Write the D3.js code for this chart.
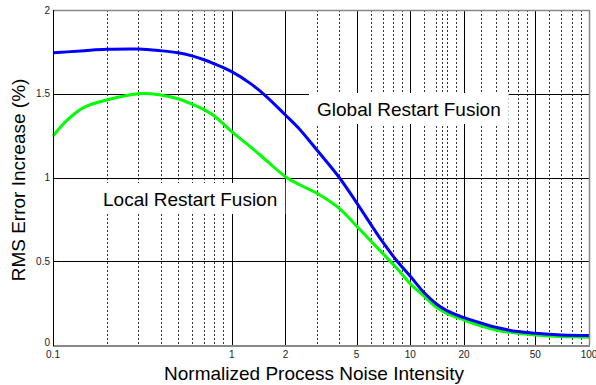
<!DOCTYPE html>
<html>
<head>
<meta charset="utf-8">
<script src="https://cdn.jsdelivr.net/npm/d3@7/dist/d3.min.js"></script>
<style>
html,body{margin:0;padding:0;background:#fff;}
svg{display:block;font-family:"Liberation Sans",Arial,sans-serif;}
</style>
</head>
<body>
<svg id="chart" width="596" height="385"></svg>
<script>
// ---- data ----
const noise = [0.1, 0.12, 0.15, 0.2, 0.3, 0.4, 0.5, 0.6, 0.7, 0.8, 1, 1.27, 1.57, 2, 2.42, 3, 4, 5, 7, 8.4, 10, 12, 14, 16, 20, 25, 30, 40, 50, 70, 100];
const globalFusion = [1.745, 1.75, 1.757, 1.765, 1.767, 1.757, 1.745, 1.726, 1.703, 1.678, 1.632, 1.562, 1.482, 1.373, 1.284, 1.164, 1.0, 0.85, 0.615, 0.503, 0.41, 0.31, 0.245, 0.205, 0.163, 0.13, 0.106, 0.08, 0.07, 0.06, 0.056];
const localFusion = [1.248, 1.343, 1.42, 1.463, 1.50, 1.493, 1.47, 1.438, 1.405, 1.367, 1.274, 1.184, 1.10, 1.005, 0.955, 0.906, 0.816, 0.71, 0.547, 0.458, 0.365, 0.29, 0.225, 0.189, 0.149, 0.113, 0.09, 0.07, 0.06, 0.05, 0.046];
const xTicks = [0.1, 1, 2, 5, 10, 20, 50, 100];
const xTickLabels = ["0.1", "1", "2", "5", "10", "20", "50", "100"];
const xMajorGrid = [1, 2, 5, 10, 20, 50];
const xMinorGrid = [0.2, 0.3, 0.4, 0.5, 0.6, 0.7, 0.8, 0.9, 3, 4, 6, 7, 8, 9, 12, 14, 15, 16, 18, 25, 30, 35, 40, 45, 60, 70, 80, 90];
const yTicks = [0, 0.5, 1, 1.5, 2];
const yTickLabels = ["0", "0.5", "1", "1.5", "2"];
const yGrid = [0.5, 1, 1.5];
const seriesNames = ["Global Restart Fusion", "Local Restart Fusion"];
const xTitle = "Normalized Process Noise Intensity";
const yTitle = "RMS Error Increase (%)";

// ---- layout ----
const L = 53, R = 589, T = 10, B = 345;
const svg = d3.select("#chart");
const x = d3.scaleLog().domain([0.1, 100]).range([L, R]);
const y = d3.scaleLinear().domain([0, 2]).range([B, T]);

// grid
const g = svg.append("g");
g.selectAll("line.minor").data(xMinorGrid).enter().append("line")
  .attr("x1", d => Math.round(x(d)) + 0.5).attr("x2", d => Math.round(x(d)) + 0.5)
  .attr("y1", T).attr("y2", B)
  .attr("stroke", "#333").attr("stroke-width", 1).attr("stroke-dasharray", "2,2");
g.selectAll("line.major").data(xMajorGrid).enter().append("line")
  .attr("x1", d => Math.round(x(d)) + 0.5).attr("x2", d => Math.round(x(d)) + 0.5)
  .attr("y1", T).attr("y2", B)
  .attr("stroke", "#000").attr("stroke-width", 1);
g.selectAll("line.hy").data(yGrid).enter().append("line")
  .attr("x1", L).attr("x2", R)
  .attr("y1", d => Math.round(y(d)) + 0.5).attr("y2", d => Math.round(y(d)) + 0.5)
  .attr("stroke", "#000").attr("stroke-width", 1);

// curves
const line = d3.line().x(d => x(d[0])).y(d => y(d[1])).curve(d3.curveCatmullRom.alpha(0.5));
svg.append("path").datum(noise.map((n, i) => [n, localFusion[i]]))
  .attr("d", line).attr("fill", "none").attr("stroke", "#00ff00").attr("stroke-width", 3);
svg.append("path").datum(noise.map((n, i) => [n, globalFusion[i]]))
  .attr("d", line).attr("fill", "none").attr("stroke", "#0000ff").attr("stroke-width", 3);

// text labels with white boxes
function label(txt, tx, ty) {
  const t = svg.append("text").attr("x", tx).attr("y", ty)
    .attr("font-size", 19).attr("fill", "#000").text(txt);
  const bb = t.node().getBBox();
  svg.insert("rect", function(){ return t.node(); })
    .attr("x", bb.x - 8).attr("y", ty - 23).attr("width", bb.width + 16).attr("height", 31)
    .attr("fill", "#fff");
}
label(seriesNames[0], 317, 116);
label(seriesNames[1], 103, 206);

// frame
svg.append("line").attr("x1", L).attr("x2", R).attr("y1", T + 0.5).attr("y2", T + 0.5)
  .attr("stroke", "#888").attr("stroke-width", 1.5);
svg.append("line").attr("x1", R + 0.5).attr("x2", R + 0.5).attr("y1", T).attr("y2", B)
  .attr("stroke", "#888").attr("stroke-width", 1.5);
svg.append("line").attr("x1", L).attr("x2", R + 1).attr("y1", B + 1).attr("y2", B + 1)
  .attr("stroke", "#888").attr("stroke-width", 2);
svg.append("line").attr("x1", L + 0.5).attr("x2", L + 0.5).attr("y1", T).attr("y2", B + 1)
  .attr("stroke", "#000").attr("stroke-width", 1);

// tick labels
svg.selectAll("text.xt").data(xTicks).enter().append("text")
  .attr("x", d => x(d)).attr("y", 358).attr("text-anchor", "middle")
  .attr("font-size", 10).attr("fill", "#222").text((d, i) => xTickLabels[i]);
svg.selectAll("text.yt").data(yTicks).enter().append("text")
  .attr("x", 50).attr("y", d => d === 0 ? y(d) + 1 : y(d) + 3.5).attr("text-anchor", "end")
  .attr("font-size", 10).attr("fill", "#222").text((d, i) => yTickLabels[i]);

// axis titles
svg.append("text").attr("x", 314).attr("y", 380).attr("text-anchor", "middle")
  .attr("font-size", 19).attr("fill", "#000").text(xTitle);
svg.append("text").attr("transform", "translate(25,180) rotate(-90)").attr("text-anchor", "middle")
  .attr("font-size", 19).attr("fill", "#000").text(yTitle);
</script>
</body>
</html>
